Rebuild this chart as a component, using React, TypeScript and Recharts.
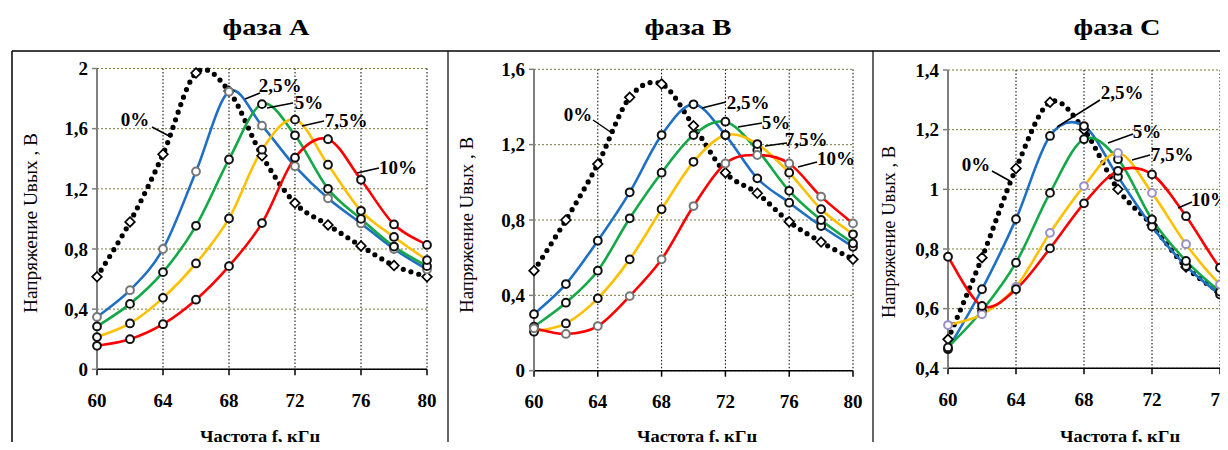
import React from 'react';
import { LineChart, Line, XAxis, YAxis, CartesianGrid } from 'recharts';

// frequency, kHz
const freq = [60, 62, 64, 66, 68, 70, 72, 74, 76, 78, 80];

// output voltage, V — phase A
const phaseA0 = [0.615, 0.98, 1.43, 1.97, 1.85, 1.42, 1.105, 0.96, 0.82, 0.69, 0.615];
const phaseA25 = [0.348, 0.526, 0.8, 1.315, 1.846, 1.62, 1.35, 1.137, 0.97, 0.8, 0.664];
const phaseA5 = [0.285, 0.435, 0.646, 0.954, 1.395, 1.763, 1.556, 1.2, 1.0, 0.816, 0.686];
const phaseA75 = [0.214, 0.305, 0.475, 0.704, 1.003, 1.46, 1.66, 1.36, 1.054, 0.88, 0.726];
const phaseA10 = [0.156, 0.2, 0.3, 0.463, 0.686, 0.972, 1.407, 1.53, 1.26, 0.963, 0.827];

// phase B
const phaseB0 = [0.531, 0.8, 1.097, 1.451, 1.522, 1.3, 1.051, 0.942, 0.791, 0.683, 0.591];
const phaseB25 = [0.3, 0.46, 0.69, 0.947, 1.251, 1.414, 1.251, 1.021, 0.892, 0.768, 0.658];
const phaseB5 = [0.234, 0.361, 0.531, 0.809, 1.051, 1.251, 1.322, 1.171, 0.955, 0.8, 0.676];
const phaseB75 = [0.207, 0.251, 0.384, 0.591, 0.857, 1.109, 1.251, 1.203, 1.051, 0.857, 0.724];
const phaseB10 = [0.225, 0.195, 0.237, 0.396, 0.591, 0.874, 1.1, 1.145, 1.1, 0.924, 0.782];

// phase C
const phaseC0 = [0.497, 0.771, 1.07, 1.292, 1.2, 1.0, 0.88, 0.74, 0.655, 0.59, 0.54];
const phaseC25 = [0.464, 0.665, 0.9, 1.179, 1.212, 1.042, 0.875, 0.743, 0.647, 0.56, 0.49];
const phaseC5 = [0.47, 0.593, 0.754, 0.988, 1.168, 1.101, 0.899, 0.76, 0.657, 0.57, 0.5];
const phaseC75 = [0.545, 0.581, 0.673, 0.854, 1.011, 1.122, 0.988, 0.816, 0.681, 0.59, 0.52];
const phaseC10 = [0.774, 0.609, 0.665, 0.802, 0.953, 1.062, 1.05, 0.91, 0.737, 0.62, 0.54];

const xTicks = [60, 64, 68, 72, 76, 80];
const colors = ['#000000', '#1f6fc4', '#14a847', '#ffc000', '#ff0000'];

const SERIF = '"Liberation Serif", "Times New Roman", serif';

const makeRows = (cols: number[][]) =>
  freq.map((f, i) => ({ f, s0: cols[0][i], s1: cols[1][i], s2: cols[2][i], s3: cols[3][i], s4: cols[4][i] }));

const panels = [
  {
    title: 'фаза А', rows: makeRows([phaseA0, phaseA25, phaseA5, phaseA75, phaseA10]),
    yDomain: [0, 2], yTicks: [0, 0.4, 0.8, 1.2, 1.6, 2],
    plotLeft: 97, plotRight: 427, plotTop: 68.5, plotBottom: 369.3,
    markerStroke: ['#000', '#777', '#111', '#111', '#111'],
  },
  {
    title: 'фаза В', rows: makeRows([phaseB0, phaseB25, phaseB5, phaseB75, phaseB10]),
    yDomain: [0, 1.6], yTicks: [0, 0.4, 0.8, 1.2, 1.6],
    plotLeft: 534.3, plotRight: 853.3, plotTop: 69.3, plotBottom: 370.7,
    markerStroke: ['#000', '#111', '#111', '#111', '#777'],
  },
  {
    title: 'фаза С', rows: makeRows([phaseC0, phaseC25, phaseC5, phaseC75, phaseC10]),
    yDomain: [0.4, 1.4], yTicks: [0.4, 0.6, 0.8, 1, 1.2, 1.4],
    plotLeft: 948, plotRight: 1288, plotTop: 70, plotBottom: 368.3,
    markerStroke: ['#000', '#111', '#111', '#9a90c8', '#111'],
  },
];

// series labels with leader lines (pixel positions on the page)
const annotations = [
  { t: '0%', x: 135, y: 119, l: [152, 127, 171, 137] },
  { t: '2,5%', x: 280, y: 85, l: [245, 99, 260, 93] },
  { t: '5%', x: 309, y: 102, l: [267, 108, 293, 103] },
  { t: '7,5%', x: 346, y: 120, l: [302, 126, 324, 121] },
  { t: '10%', x: 398, y: 167, l: [357, 173, 379, 168] },
  { t: '0%', x: 578, y: 114, l: [593, 120, 612, 133] },
  { t: '2,5%', x: 748, y: 102, l: [702, 108, 726, 102] },
  { t: '5%', x: 776, y: 122, l: [738, 127, 762, 123] },
  { t: '7,5%', x: 806, y: 139, l: [765, 146, 787, 143] },
  { t: '10%', x: 836, y: 158, l: [798, 167, 817, 162] },
  { t: '0%', x: 976, y: 164, l: [992, 171, 1010, 181] },
  { t: '2,5%', x: 1122, y: 92, l: [1057, 127, 1100, 100] },
  { t: '5%', x: 1147, y: 131, l: [1108, 143, 1133, 134] },
  { t: '7,5%', x: 1172, y: 154, l: [1132, 160, 1150, 155] },
  { t: '10%', x: 1210, y: 199, l: [1178, 208, 1192, 202] },
];

// Excel-like smoothed line (uniform Catmull-Rom as cubic Beziers)
const excelCurve = (ctx: any) => {
  let pts: number[][] = [];
  return {
    areaStart() {},
    areaEnd() {},
    lineStart() { pts = []; },
    point(x: number, y: number) { pts.push([+x, +y]); },
    lineEnd() {
      if (!pts.length) return;
      ctx.moveTo(pts[0][0], pts[0][1]);
      for (let i = 0; i < pts.length - 1; i++) {
        const p0 = pts[i - 1] || pts[i];
        const p1 = pts[i];
        const p2 = pts[i + 1];
        const p3 = pts[i + 2] || p2;
        ctx.bezierCurveTo(
          p1[0] + (p2[0] - p0[0]) / 6, p1[1] + (p2[1] - p0[1]) / 6,
          p2[0] - (p3[0] - p1[0]) / 6, p2[1] - (p3[1] - p1[1]) / 6,
          p2[0], p2[1],
        );
      }
    },
  };
};

const fmt = (v: number) => String(v).replace('.', ',');

const Diamond = (props: any) => {
  const { cx, cy, index } = props;
  const s = 4.8;
  return (
    <path key={`dm-${index}`} d={`M${cx},${cy - s}L${cx + s},${cy}L${cx},${cy + s}L${cx - s},${cy}Z`}
      fill="#fff" stroke="#000" strokeWidth={1.7} />
  );
};

const ringDot = (stroke: string) => (props: any) => (
  <circle key={`c-${props.index}`} cx={props.cx} cy={props.cy} r={3.9} fill="#fff" stroke={stroke} strokeWidth={2} />
);

function Panel({ p }: { p: typeof panels[number] }) {
  const yAxisW = 50;
  const xAxisH = 40;
  const left = p.plotLeft - 10 - yAxisW;
  const width = p.plotRight - p.plotLeft + 10 + yAxisW + 10;
  const tick = { fill: '#000', fontSize: 19, fontWeight: 700, fontFamily: SERIF };
  return (
    <div style={{ position: 'absolute', left, top: 0 }}>
      <LineChart width={width} height={450} data={p.rows}
        margin={{ top: p.plotTop, left: 10, right: 10, bottom: 450 - p.plotBottom - xAxisH }}>
        <CartesianGrid vertical={false} stroke="#7c7c3c" strokeDasharray="2 2" strokeWidth={1} />
        <CartesianGrid horizontal={false} stroke="#000" strokeDasharray="1.5 2" strokeWidth={1} />
        <XAxis dataKey="f" type="number" domain={[60, 80]} ticks={xTicks} height={xAxisH}
          axisLine={{ stroke: '#000', strokeWidth: 1.5 }} tickLine={{ stroke: '#000', strokeWidth: 1.5 }}
          tickSize={6} tickMargin={18} tick={tick} interval={0} />
        <YAxis type="number" domain={p.yDomain} ticks={p.yTicks} width={yAxisW} interval={0}
          axisLine={{ stroke: '#808080', strokeWidth: 2 }} tickLine={{ stroke: '#808080', strokeWidth: 1.5 }}
          tickSize={5} tickMargin={4} tick={tick} tickFormatter={fmt} />
        <Line dataKey="s0" type={excelCurve as any} stroke="#000" strokeWidth={5.2}
          strokeDasharray="0 8" strokeLinecap="round" dot={Diamond} activeDot={false}
          isAnimationActive={false} />
        {[1, 2, 3, 4].map((k) => (
          <Line key={k} dataKey={`s${k}`} type={excelCurve as any} stroke={colors[k]} strokeWidth={2.6}
            dot={ringDot(p.markerStroke[k])} activeDot={false} isAnimationActive={false} />
        ))}
      </LineChart>
    </div>
  );
}

const titleX = [266, 688, 1117];
const yLabel = [
  { x: 31, y: 223, len: 180 },
  { x: 467, y: 225, len: 176 },
  { x: 889, y: 232, len: 172 },
];
const xLabelX = [260, 697, 1120];

export default function App() {
  return (
    <div style={{ position: 'relative', width: 1228, height: 450, margin: -8, overflow: 'hidden', background: '#fff' }}>
      {panels.map((p) => <Panel key={p.title} p={p} />)}
      <svg width={1228} height={450} style={{ position: 'absolute', left: 0, top: 0, pointerEvents: 'none' }}>
        {/* panel frames */}
        <line x1={12} y1={51} x2={1228} y2={51} stroke="#000" strokeWidth={1.5} />
        <line x1={12} y1={51} x2={12} y2={450} stroke="#000" strokeWidth={1.5} />
        <line x1={448} y1={51} x2={448} y2={450} stroke="#000" strokeWidth={1.2} />
        <line x1={873} y1={51} x2={873} y2={450} stroke="#000" strokeWidth={1.2} />
        {panels.map((p, i) => (
          <text key={`t${i}`} x={titleX[i]} y={35} textAnchor="middle" fontFamily={SERIF} fontWeight={700}
            fontSize={23} textLength={87} lengthAdjust="spacingAndGlyphs">{p.title}</text>
        ))}
        {yLabel.map((l, i) => (
          <text key={`y${i}`} x={0} y={0} transform={`translate(${l.x},${l.y}) rotate(-90)`} textAnchor="middle"
            dy="0.35em" fontFamily={SERIF} fontSize={18} textLength={l.len} lengthAdjust="spacingAndGlyphs">
            Напряжение Uвых , В
          </text>
        ))}
        {xLabelX.map((x, i) => (
          <text key={`x${i}`} x={x} y={436} textAnchor="middle" dy="0.35em" fontFamily={SERIF} fontWeight={700}
            fontSize={16} textLength={120} lengthAdjust="spacingAndGlyphs">Частота f, кГц</text>
        ))}
        {annotations.map((a, i) => (
          <g key={`a${i}`}>
            <line x1={a.l[0]} y1={a.l[1]} x2={a.l[2]} y2={a.l[3]} stroke="#000" strokeWidth={1.5} />
            <text x={a.x} y={a.y} dy="0.35em" textAnchor="middle" fontFamily={SERIF} fontWeight={700}
              fontSize={19}>{a.t}</text>
          </g>
        ))}
      </svg>
    </div>
  );
}
